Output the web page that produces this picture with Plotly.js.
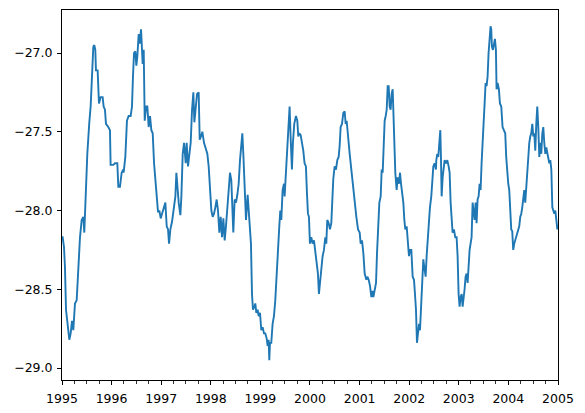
<!DOCTYPE html>
<html><head><meta charset="utf-8">
<script src="https://cdn.plot.ly/plotly-3.0.1.min.js"></script>
<style>html,body{margin:0;padding:0;background:#fff;}#chart{width:585px;height:413px;}</style>
</head><body><div id="chart"></div>
<script>
// decimal-year timestamps
var years = [1995.000,1995.013,1995.040,1995.060,1995.081,1995.108,1995.148,1995.175,1995.202,1995.228,1995.262,1995.296,1995.329,1995.363,1995.397,1995.430,1995.450,1995.477,1995.511,1995.551,1995.578,1995.605,1995.632,1995.652,1995.672,1995.685,1995.719,1995.746,1995.780,1995.820,1995.840,1995.867,1995.887,1995.934,1995.968,1995.981,1996.035,1996.069,1996.116,1996.136,1996.169,1996.203,1996.237,
1996.243,1996.277,1996.310,1996.344,1996.384,1996.411,1996.431,1996.452,1996.478,1996.499,1996.519,1996.546,1996.566,1996.593,1996.613,1996.626,1996.647,1996.667,1996.694,1996.720,1996.747,1996.774,1996.801,1996.828,1996.855,1996.882,1996.909,1996.935,1996.962,1996.989,1997.016,1997.050,1997.083,1997.110,1997.137,1997.157,1997.184,1997.218,1997.251,1997.285,1997.305,1997.332,1997.352,1997.386,1997.406,1997.433,1997.460,
1997.493,1997.513,1997.540,1997.567,1997.594,1997.621,1997.648,1997.668,1997.695,1997.722,1997.755,1997.776,1997.802,1997.829,1997.863,1997.903,1997.930,1997.957,1997.984,1998.011,1998.038,1998.065,1998.091,1998.118,1998.145,1998.172,1998.199,1998.226,1998.253,1998.280,1998.306,1998.333,1998.360,1998.387,1998.414,1998.441,1998.454,1998.481,1998.508,1998.535,1998.562,1998.589,1998.616,1998.636,1998.656,1998.683,1998.710,
1998.743,1998.763,1998.790,1998.810,1998.831,1998.851,1998.878,1998.898,1998.918,1998.945,1998.965,1998.992,1999.019,1999.046,1999.073,1999.099,1999.126,1999.147,1999.167,1999.180,1999.194,1999.220,1999.247,1999.274,1999.301,1999.328,1999.355,1999.382,1999.402,1999.422,1999.449,1999.476,1999.489,1999.516,1999.543,1999.570,1999.590,1999.610,1999.637,1999.657,1999.684,1999.718,1999.745,1999.765,1999.785,1999.812,1999.839,1999.866,1999.892,1999.919,1999.940,1999.960,
1999.980,2000.000,2000.027,2000.054,2000.081,2000.108,2000.134,2000.161,2000.181,2000.208,2000.228,2000.255,2000.282,2000.309,2000.329,2000.349,2000.376,2000.403,2000.430,2000.450,2000.470,2000.497,2000.524,2000.551,2000.578,2000.598,2000.618,2000.645,2000.672,2000.699,2000.719,2000.739,2000.766,2000.800,2000.833,2000.867,2000.901,2000.934,2000.968,2001.001,2001.021,2001.048,2001.075,2001.102,2001.136,2001.156,2001.183,2001.210,2001.237,2001.263,
2001.277,2001.304,2001.331,2001.351,2001.378,2001.398,2001.425,2001.445,2001.465,2001.485,2001.505,2001.526,2001.546,2001.566,2001.586,2001.606,2001.626,2001.646,2001.667,2001.687,2001.700,2001.720,2001.747,2001.767,2001.794,2001.815,2001.835,2001.855,2001.882,2001.902,2001.922,2001.949,2001.976,2001.996,2002.016,2002.043,2002.070,2002.097,2002.117,2002.137,2002.157,2002.177,2002.198,2002.218,2002.238,2002.258,2002.285,2002.305,2002.332,2002.352,2002.372,2002.392,2002.419,2002.446,2002.466,2002.487,2002.513,2002.540,
2002.547,2002.567,2002.587,2002.608,2002.628,2002.641,2002.655,2002.675,2002.695,2002.715,2002.742,2002.769,2002.796,2002.816,2002.836,2002.856,2002.876,2002.903,2002.930,2002.957,2002.977,2002.997,2003.017,2003.038,2003.058,2003.078,2003.098,2003.118,2003.138,2003.159,2003.179,2003.199,2003.219,2003.239,2003.259,2003.280,2003.300,2003.320,2003.340,2003.360,2003.380,2003.401,2003.421,2003.441,2003.461,2003.481,2003.501,2003.522,2003.542,2003.562,2003.582,2003.602,2003.622,2003.642,2003.656,2003.669,2003.690,2003.710,
2003.730,2003.750,2003.763,2003.784,2003.810,2003.831,2003.858,2003.884,2003.911,2003.938,2003.958,2003.978,2003.999,2004.019,2004.039,2004.059,2004.079,2004.099,2004.120,2004.140,2004.160,2004.180,2004.200,2004.220,2004.241,2004.261,2004.281,2004.301,2004.321,2004.341,2004.362,2004.382,2004.402,2004.422,2004.442,2004.462,2004.483,2004.503,2004.523,2004.543,2004.563,2004.583,2004.603,2004.624,2004.644,2004.664,2004.684,2004.704,2004.724,2004.745,2004.765,2004.785,2004.805,2004.825,2004.845,2004.866,2004.886,2004.906,2004.926,2004.946,2004.966,2004.987,2005.000];

var values = [-28.17,-28.17,-28.23,-28.36,-28.63,-28.70,-28.82,-28.78,-28.70,-28.76,-28.59,-28.57,-28.33,-28.17,-28.06,-28.04,-28.14,-27.91,-27.64,-27.44,-27.34,-27.15,-26.96,-26.95,-26.98,-27.11,-27.11,-27.32,-27.28,-27.28,-27.34,-27.36,-27.45,-27.47,-27.49,-27.71,-27.71,-27.70,-27.70,-27.85,-27.85,-27.76,-27.74,
-27.76,-27.66,-27.43,-27.40,-27.40,-27.34,-27.15,-27.00,-26.99,-27.08,-27.02,-26.88,-26.94,-26.85,-26.98,-27.07,-26.98,-27.43,-27.34,-27.34,-27.47,-27.40,-27.49,-27.51,-27.70,-27.81,-27.91,-28.01,-28.00,-28.05,-28.02,-27.98,-27.95,-28.10,-28.12,-28.21,-28.12,-28.07,-28.00,-27.91,-27.76,-27.89,-27.95,-28.03,-27.91,-27.64,-27.57,
-27.70,-27.57,-27.72,-27.62,-27.57,-27.36,-27.25,-27.44,-27.36,-27.26,-27.25,-27.55,-27.53,-27.50,-27.57,-27.62,-27.64,-27.72,-27.85,-28.00,-28.04,-28.02,-27.98,-27.93,-28.00,-28.14,-28.04,-28.17,-28.05,-28.19,-28.10,-28.00,-27.91,-27.76,-27.81,-28.04,-28.14,-27.93,-27.95,-27.90,-27.83,-27.68,-27.57,-27.51,-27.64,-27.83,-28.06,
-27.90,-28.00,-28.12,-28.21,-28.53,-28.63,-28.61,-28.59,-28.65,-28.63,-28.67,-28.65,-28.76,-28.74,-28.78,-28.78,-28.81,-28.86,-28.82,-28.95,-28.84,-28.84,-28.72,-28.67,-28.57,-28.38,-28.25,-28.10,-28.00,-28.06,-27.87,-27.83,-27.91,-27.76,-27.62,-27.47,-27.34,-27.53,-27.74,-27.57,-27.45,-27.40,-27.43,-27.53,-27.51,-27.52,-27.57,-27.62,-27.70,-27.72,-27.89,-28.02,
-28.04,-28.21,-28.17,-28.21,-28.19,-28.25,-28.34,-28.40,-28.53,-28.42,-28.38,-28.29,-28.25,-28.17,-28.21,-28.06,-28.08,-28.12,-28.08,-27.91,-27.80,-27.72,-27.74,-27.68,-27.66,-27.59,-27.47,-27.45,-27.38,-27.37,-27.45,-27.43,-27.55,-27.64,-27.74,-27.85,-27.98,-28.04,-28.12,-28.14,-28.21,-28.19,-28.27,-28.40,-28.44,-28.42,-28.44,-28.48,-28.55,-28.51,
-28.55,-28.51,-28.46,-28.27,-28.10,-27.95,-27.91,-27.74,-27.76,-27.62,-27.43,-27.40,-27.36,-27.21,-27.21,-27.34,-27.36,-27.26,-27.23,-27.43,-27.62,-27.76,-27.87,-27.79,-27.83,-27.76,-27.83,-27.89,-27.95,-28.06,-28.12,-28.10,-28.21,-28.29,-28.25,-28.25,-28.42,-28.44,-28.53,-28.63,-28.84,-28.76,-28.72,-28.76,-28.61,-28.42,-28.31,-28.36,-28.42,-28.29,-28.19,-28.06,-27.98,-27.91,-27.83,-27.72,-27.70,-27.74,
-27.68,-27.64,-27.66,-27.57,-27.49,-27.66,-27.91,-27.79,-27.72,-27.68,-27.70,-27.68,-27.72,-27.76,-27.95,-28.10,-28.14,-28.12,-28.17,-28.17,-28.29,-28.53,-28.61,-28.55,-28.53,-28.61,-28.57,-28.50,-28.42,-28.40,-28.46,-28.34,-28.25,-28.21,-28.17,-27.95,-28.00,-28.06,-27.95,-28.08,-27.93,-27.91,-27.83,-27.87,-27.70,-27.51,-27.45,-27.32,-27.19,-27.21,-27.15,-27.00,-26.92,-26.83,-26.85,-26.96,-26.98,-26.93,
-26.91,-26.98,-27.23,-27.19,-27.23,-27.32,-27.34,-27.47,-27.49,-27.51,-27.66,-27.76,-27.83,-27.87,-28.00,-28.12,-28.13,-28.25,-28.21,-28.19,-28.17,-28.14,-28.12,-28.10,-28.04,-28.02,-27.98,-27.91,-27.87,-27.95,-27.85,-27.72,-27.62,-27.57,-27.53,-27.51,-27.45,-27.53,-27.51,-27.62,-27.45,-27.34,-27.47,-27.66,-27.57,-27.64,-27.51,-27.47,-27.57,-27.64,-27.60,-27.64,-27.66,-27.70,-27.68,-27.74,-27.98,-28.00,-28.02,-28.00,-28.06,-28.12,-28.10];

var yTickVals = [-29.0, -28.5, -28.0, -27.5, -27.0];
var xRange = ['1995-01-01', '2005-01-01'];

function yearToDate(y) {
  var yr = Math.floor(y);
  var a = Date.UTC(yr, 0, 1), b = Date.UTC(yr + 1, 0, 1);
  var d = new Date(a + (y - yr) * (b - a));
  return d.toISOString().slice(0, 19).replace('T', ' ');
}
var dates = years.map(yearToDate);

var trace = {
  x: dates, y: values, type: 'scatter', mode: 'lines',
  line: {color: '#1f77b4', width: 1.9}, hoverinfo: 'skip'
};
var axisFont = {family: 'DejaVu Sans, sans-serif', size: 12.5, color: '#000'};
var layout = {
  width: 585, height: 413,
  margin: {l: 62, r: 27, t: 10, b: 33, pad: 0},
  paper_bgcolor: '#fff', plot_bgcolor: '#fff',
  showlegend: false,
  font: axisFont,
  xaxis: {
    type: 'date', range: xRange, dtick: 'M12', tick0: '1995-01-01', tickformat: '%Y',
    ticks: 'outside', ticklen: 4, tickwidth: 1, tickcolor: '#000', ticklabelstandoff: 3,
    showline: true, linecolor: '#000', linewidth: 1, mirror: true,
    showgrid: false, zeroline: false, tickfont: axisFont,
    minor: {dtick: 'M3', tick0: '1995-01-01', ticks: 'outside', ticklen: 2.5, tickwidth: 0.8, tickcolor: '#000', showgrid: false}
  },
  yaxis: {
    range: [-29.076, -26.727], tickvals: yTickVals, tickformat: '.1f',
    ticks: 'outside', ticklen: 4, tickwidth: 1, tickcolor: '#000', ticklabelstandoff: 2,
    showline: true, linecolor: '#000', linewidth: 1, mirror: true,
    showgrid: false, zeroline: false, tickfont: axisFont
  }
};
Plotly.newPlot('chart', [trace], layout, {staticPlot: true, displayModeBar: false});
</script>
</body></html>
